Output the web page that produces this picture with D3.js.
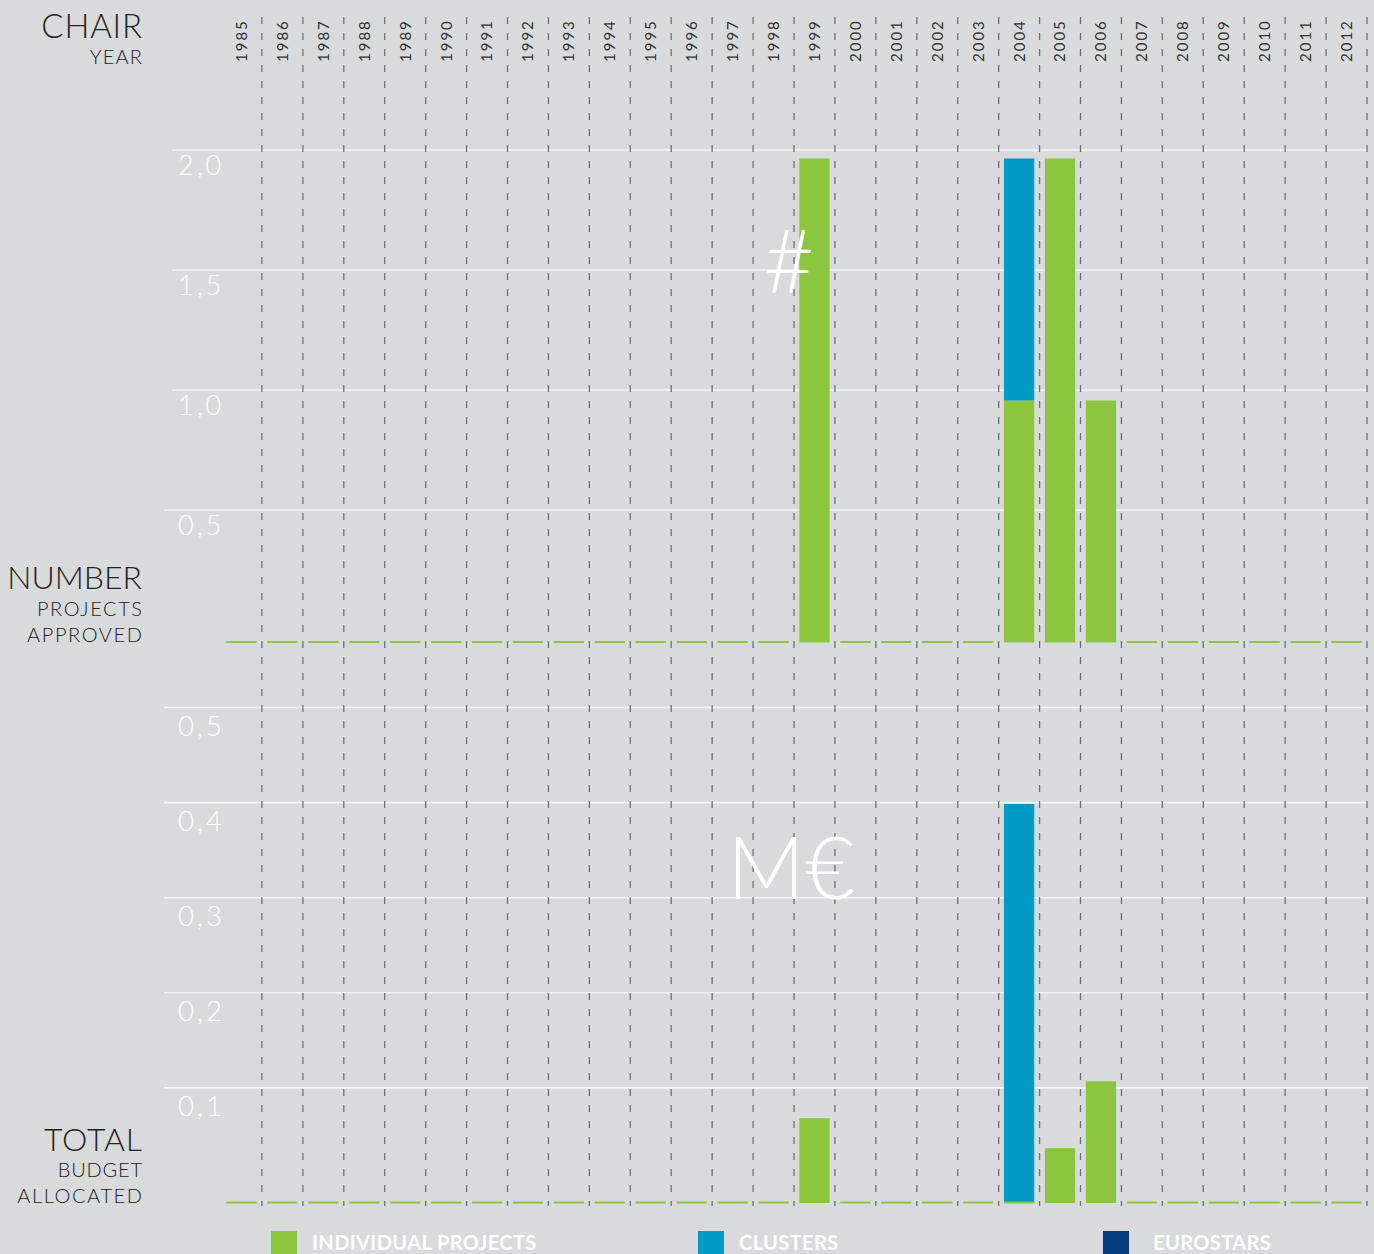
<!DOCTYPE html>
<html><head><meta charset="utf-8">
<script src="https://cdn.jsdelivr.net/npm/d3@7"></script>
<style>
html,body{margin:0;padding:0;background:#d9dadc;}
svg{display:block;}
text{font-family:Lato,"Open Sans",sans-serif;}
</style></head>
<body>
<svg id="chart" width="1374" height="1254"></svg>
<script>
// ---------- data ----------
const years = d3.range(1985, 2013).map(String);
const numIndividual = [0,0,0,0,0,0,0,0,0,0,0,0,0,0,2,0,0,0,0,1,2,1,0,0,0,0,0,0];
const numClusters   = [0,0,0,0,0,0,0,0,0,0,0,0,0,0,0,0,0,0,0,1,0,0,0,0,0,0,0,0];
const numEurostars  = [0,0,0,0,0,0,0,0,0,0,0,0,0,0,0,0,0,0,0,0,0,0,0,0,0,0,0,0];
const budgetIndividual = [0,0,0,0,0,0,0,0,0,0,0,0,0,0,0.085,0,0,0,0,0,0.055,0.122,0,0,0,0,0,0];
const budgetClusters   = [0,0,0,0,0,0,0,0,0,0,0,0,0,0,0,0,0,0,0,0.4,0,0,0,0,0,0,0,0];
const budgetEurostars  = [0,0,0,0,0,0,0,0,0,0,0,0,0,0,0,0,0,0,0,0,0,0,0,0,0,0,0,0];
const numTicks = [0.5, 1.0, 1.5, 2.0];
const budgetTicks = [0.1, 0.2, 0.3, 0.4, 0.5];
const seriesNames = ["INDIVIDUAL PROJECTS", "CLUSTERS", "EUROSTARS"];
const seriesColors = ["#8cc63f", "#009bc4", "#053b80"];

// ---------- setup ----------
const svg = d3.select("#chart");
const x = d3.scaleBand().domain(years).range([221, 1367]).paddingInner(0.26).paddingOuter(0.13);
const colX = d3.scaleBand().domain(years).range([221, 1367]);
const fmt = v => d3.format(".1f")(v).replace(".", ",");

// panel scales: bars and grid lines
const yNumBar  = d3.scaleLinear().domain([0, 2]).range([642.5, 158.5]);
const yNumGrid = d3.scaleLinear().domain([0, 2]).range([630, 150]);
const yBudBar  = d3.scaleLinear().domain([0, 0.4]).range([1203, 804]);
const yBudGrid = d3.scaleLinear().domain([0, 0.5]).range([1183, 707.5]);

// gridlines
function grid(ticks, scale, x0, fs, dy) {
  const g = svg.append("g");
  g.selectAll("line").data(ticks).join("line")
    .attr("x1", d => d === ticks[0] && ticks.length === 4 ? 164 : x0).attr("x2", 1368)
    .attr("y1", d => scale(d)).attr("y2", d => scale(d))
    .attr("stroke", "#f4f4f4").attr("stroke-width", 1.6);
  g.selectAll("text").data(ticks).join("text")
    .attr("x", 178).attr("y", d => scale(d) + dy)
    .attr("fill", "#ffffff").attr("font-size", fs).attr("font-weight", 300)
    .attr("letter-spacing", 3)
    .text(fmt);
}
grid(numTicks, yNumGrid, 172, 27, 25);
grid(budgetTicks, yBudGrid, 164, 27.5, 28);

// dashed column separators
svg.append("g").selectAll("line").data(years).join("line")
  .attr("x1", d => colX(d) + colX.bandwidth()).attr("x2", d => colX(d) + colX.bandwidth())
  .attr("y1", 17).attr("y2", 1206)
  .attr("stroke", "#707070").attr("stroke-width", 1.3).attr("stroke-dasharray", "7,9");

// year labels
svg.append("g").selectAll("text").data(years).join("text")
  .attr("transform", d => `translate(${colX(d) + colX.bandwidth()/2},62) rotate(-90)`)
  .attr("dy", "0.36em").attr("font-size", 15).attr("fill", "#333").attr("font-weight", 400)
  .attr("letter-spacing", 2)
  .text(d => d);

// stacked bars
function bars(series, yScale) {
  const rows = years.map((y, i) => ({year: y, s0: series[0][i], s1: series[1][i], s2: series[2][i]}));
  const stack = d3.stack().keys(["s0", "s1", "s2"])(rows);
  const g = svg.append("g");
  stack.forEach((layer, k) => {
    g.selectAll(null).data(layer.filter(d => d[1] - d[0] > 0)).join("rect")
      .attr("x", d => x(d.data.year)).attr("width", x.bandwidth())
      .attr("y", d => yScale(d[1])).attr("height", d => yScale(d[0]) - yScale(d[1]))
      .attr("fill", seriesColors[k]);
  });
  // zero stubs
  g.selectAll(null).data(rows.filter(d => d.s0 === 0)).join("line")
    .attr("x1", d => x(d.year)).attr("x2", d => x(d.year) + x.bandwidth())
    .attr("y1", yScale(0) - 0.5).attr("y2", yScale(0) - 0.5)
    .attr("stroke", "#8cc63f").attr("stroke-width", 2);
}
bars([numIndividual, numClusters, numEurostars], yNumBar);
bars([budgetIndividual, budgetClusters, budgetEurostars], yBudBar);

// watermarks
svg.append("text").attr("x", 789).attr("y", 293).attr("text-anchor", "middle")
  .attr("font-size", 88).attr("font-weight", 300).attr("fill", "#fff").text("#");
svg.append("text").attr("x", 791).attr("y", 899).attr("text-anchor", "middle")
  .attr("font-size", 86).attr("font-weight", 300).attr("fill", "#fff").text("M€");

// left labels
const leftLabels = [
  {t: "CHAIR", y: 38, fs: 33, ls: 0.8}, {t: "YEAR", y: 64, fs: 20, ls: 1.2},
  {t: "NUMBER", y: 589, fs: 32, ls: 0}, {t: "PROJECTS", y: 616, fs: 20, ls: 1.6}, {t: "APPROVED", y: 642, fs: 20, ls: 1.6},
  {t: "TOTAL", y: 1151, fs: 32, ls: 0.8}, {t: "BUDGET", y: 1177, fs: 20, ls: 0.8}, {t: "ALLOCATED", y: 1203, fs: 20, ls: 1.6}
];
svg.append("g").selectAll("text").data(leftLabels).join("text")
  .attr("x", d => 142 + d.ls).attr("y", d => d.y).attr("text-anchor", "end")
  .attr("font-size", d => d.fs).attr("font-weight", 300).attr("fill", "#222")
  .attr("letter-spacing", d => d.ls)
  .text(d => d.t);

// legend
const legendX = [271, 698, 1103];
const lg = svg.append("g").selectAll("g").data(seriesNames).join("g")
  .attr("transform", (d, i) => `translate(${legendX[i]},1231)`);
lg.append("rect").attr("width", 26).attr("height", 30).attr("fill", (d, i) => seriesColors[i]);
lg.append("text").attr("x", (d, i) => i === 2 ? 50 : 41).attr("y", 19)
  .attr("font-size", 20).attr("font-weight", 700).attr("fill", "#fff")
  .attr("letter-spacing", 0.4).text(d => d);
</script>
</body></html>
